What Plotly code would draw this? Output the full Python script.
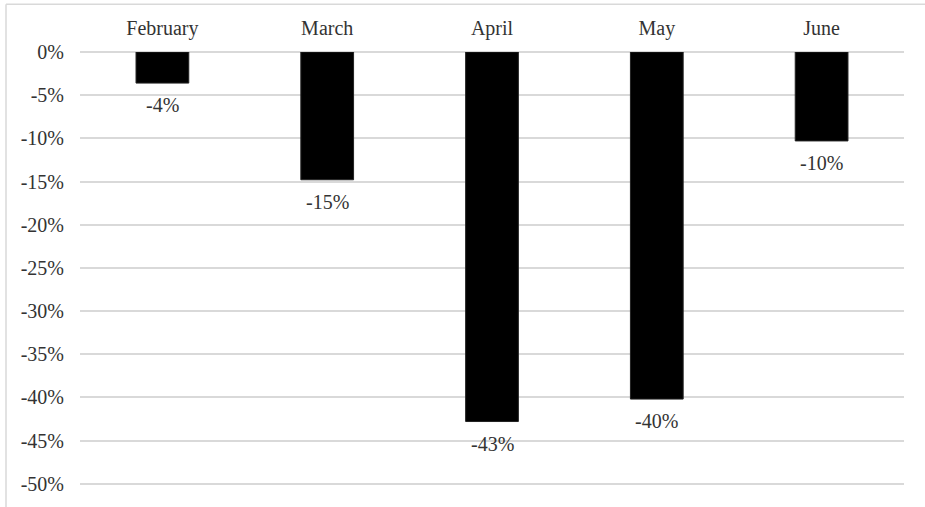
import plotly.graph_objects as go

months = ["February", "March", "April", "May", "June"]
values = [-3.6, -14.8, -42.8, -40.2, -10.3]
labels = ["-4%", "-15%", "-43%", "-40%", "-10%"]
ytick_vals = [0, -5, -10, -15, -20, -25, -30, -35, -40, -45, -50]
ytick_text = [f"{v}%" for v in ytick_vals]

FONT = "Liberation Serif"
FS = 20
COL = "#333"

fig = go.Figure(go.Bar(
    x=months, y=values,
    marker=dict(color="black", line=dict(color="#222", width=1)),
    width=0.32,
))

for m, v, t in zip(months, values, labels):
    fig.add_annotation(x=m, y=v, text=t, showarrow=False, yanchor="top",
                       yshift=-9, font=dict(family=FONT, size=FS, color=COL))

W, H = 925, 507
L, R, T, B = 80, 21, 52, 17
pw, ph = W - L - R, H - T - B
ymin = -50.5

def px_x(p):
    return (p - L) / pw

def px_y(p):
    return 1 + (T - p) / ph

fig.update_layout(
    width=W, height=H,
    margin=dict(l=L, r=R, t=T, b=B),
    plot_bgcolor="white", paper_bgcolor="white",
    font=dict(family=FONT, size=FS, color=COL),
    showlegend=False,
    xaxis=dict(side="top", showgrid=False, showline=False, ticks="",
               tickfont=dict(family=FONT, size=FS, color=COL), ticklabelstandoff=12),
    yaxis=dict(range=[ymin, 0], tickvals=ytick_vals, ticktext=ytick_text,
               showgrid=True, gridcolor="#d9d9d9", gridwidth=2,
               zeroline=True, zerolinecolor="#d9d9d9", zerolinewidth=2,
               showline=False, ticks="", ticklabelstandoff=15,
               tickfont=dict(family=FONT, size=FS, color=COL)),
    shapes=[
        dict(type="line", xref="paper", yref="paper",
             x0=px_x(6), x1=px_x(940), y0=px_y(4), y1=px_y(4),
             line=dict(color="#d9d9d9", width=1.5)),
        dict(type="line", xref="paper", yref="paper",
             x0=px_x(6), x1=px_x(6), y0=px_y(4), y1=px_y(520),
             line=dict(color="#d9d9d9", width=1.5)),
    ],
)

fig.write_html("out.html")
